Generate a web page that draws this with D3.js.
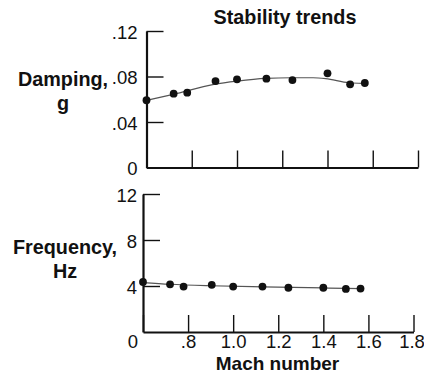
<!DOCTYPE html>
<html>
<head>
<meta charset="utf-8">
<script src="https://cdn.jsdelivr.net/npm/d3@7"></script>
<style>
  body { margin: 0; background: #fff; }
  text { font-family: "Liberation Sans", Arial, Helvetica, sans-serif; fill: #111; }
  .title { font-weight: bold; font-size: 19.8px; }
  .tick text { font-size: 18.5px; }
</style>
</head>
<body>
<div class="chart"></div>
<script>
var width = 424;
var height = 374;

// Mach numbers of the test points (shared by both panels)
var mach = [0.6, 0.72, 0.78, 0.905, 1.0, 1.13, 1.245, 1.40, 1.50, 1.565];
var damping = [0.0591, 0.0649, 0.0658, 0.0760, 0.0775, 0.0781, 0.0769, 0.0828, 0.0731, 0.0743];
var frequency = [4.35, 4.15, 3.95, 4.1, 3.95, 3.95, 3.85, 3.85, 3.75, 3.78];

// faired trend lines
var dampTrendMach = [0.6, 0.718, 0.898, 1.0, 1.127, 1.237, 1.336, 1.392, 1.495, 1.556];
var dampTrend = [0.059, 0.0643, 0.0731, 0.076, 0.0784, 0.0789, 0.0789, 0.0781, 0.0745, 0.074];
var freqTrendMach = [0.6, 0.72, 0.9, 1.13, 1.4, 1.57];
var freqTrend = [4.3, 4.15, 4.02, 3.92, 3.83, 3.77];

// ticks
var machTicks = [0.6, 0.8, 1.0, 1.2, 1.4, 1.6, 1.8];
var machLabels = ['0', '.8', '1.0', '1.2', '1.4', '1.6', '1.8'];
var dampTicks = [0, 0.04, 0.08, 0.12];
var dampLabels = ['0', '.04', '.08', '.12'];
var freqTicks = [4, 8, 12];
var freqLabels = ['4', '8', '12'];

var svg = d3.select('.chart')
  .append('svg')
  .attr('width', width)
  .attr('height', height);

function zip(xs, ys) {
  return xs.map(function(x, i){ return [x, ys[i]]; });
}

function labelFor(ticks, labels) {
  return function(d){ return labels[ticks.indexOf(d)]; };
}

function panel(p) {
  var x = d3.scaleLinear().domain([0.6, 1.8]).range([p.left, p.right]);
  var y = d3.scaleLinear().domain(p.ydomain).range([p.bottom, p.top]);

  // y axis, ticks pointing inward
  var yAxis = svg.append('g')
    .attr('transform', 'translate(' + p.left + ',0)')
    .call(d3.axisLeft(y)
      .tickValues(p.yticks)
      .tickFormat(labelFor(p.yticks, p.ylabels))
      .tickSizeInner(-17)
      .tickSizeOuter(0)
      .tickPadding(p.ypad));
  yAxis.selectAll('.tick text').attr('dy', '0.38em');

  // x axis
  var xAxis = svg.append('g')
    .attr('transform', 'translate(0,' + p.bottom + ')')
    .call(d3.axisBottom(x)
      .tickValues(p.xticks)
      .tickFormat(p.xlabels ? labelFor(p.xticks, p.xlabels) : '')
      .tickSizeInner(-17)
      .tickSizeOuter(0)
      .tickPadding(3));
  // origin "0" sits left of the corner, last label kept inside the frame
  xAxis.selectAll('.tick text').filter(function(d){ return d === 0.6; })
    .attr('dx', -10.5);
  xAxis.selectAll('.tick text').filter(function(d){ return d === 1.8; })
    .attr('dx', -2);

  svg.selectAll('.domain').attr('stroke', '#111').attr('stroke-width', 2.2);
  svg.selectAll('.tick line').attr('stroke', '#111').attr('stroke-width', 1.4);

  var line = d3.line()
    .x(function(d){ return x(d[0]); })
    .y(function(d){ return y(d[1]); })
    .curve(d3.curveMonotoneX);

  svg.append('path')
    .datum(zip(p.trendx, p.trendy))
    .attr('fill', 'none')
    .attr('stroke', '#555')
    .attr('stroke-width', 1.2)
    .attr('d', line);

  svg.append('g').selectAll('circle')
    .data(zip(mach, p.values))
    .enter().append('circle')
    .attr('cx', function(d){ return x(d[0]); })
    .attr('cy', function(d){ return y(d[1]); })
    .attr('r', 3.9)
    .attr('fill', '#111');
}

panel({
  left: 146.5, right: 418, top: 31, bottom: 167.5,
  ydomain: [0, 0.12], yticks: dampTicks, ylabels: dampLabels, ypad: 9,
  xticks: machTicks.slice(1), xlabels: null,
  values: damping, trendx: dampTrendMach, trendy: dampTrend
});

panel({
  left: 143, right: 413.5, top: 194, bottom: 332,
  ydomain: [0, 12], yticks: freqTicks, ylabels: freqLabels, ypad: 6,
  xticks: machTicks, xlabels: machLabels,
  values: frequency, trendx: freqTrendMach, trendy: freqTrend
});

// titles
function title(txt, cx, cy, size) {
  svg.append('text')
    .attr('class', 'title')
    .attr('text-anchor', 'middle')
    .attr('x', cx)
    .attr('y', cy)
    .style('font-size', size ? size + 'px' : null)
    .text(txt);
}

title('Stability trends', 285, 24);
title('Damping,', 63, 86);
title('g', 63, 110);
title('Frequency,', 65, 254);
title('Hz', 65, 278);
title('Mach number', 277.5, 370, 19);
</script>
</body>
</html>
